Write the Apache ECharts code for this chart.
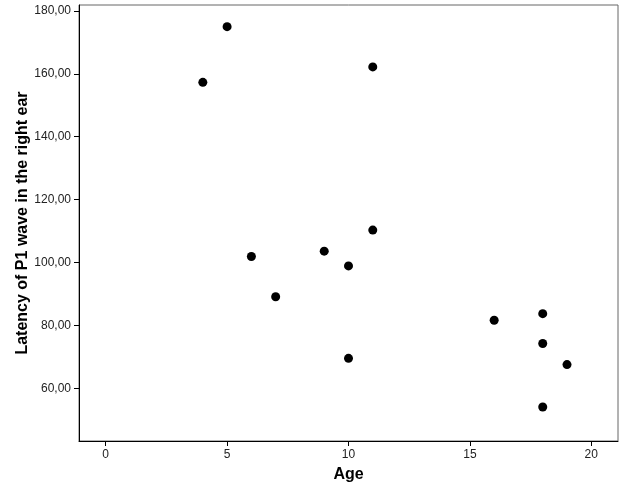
<!DOCTYPE html>
<html>
<head>
<meta charset="utf-8">
<script src="https://cdn.jsdelivr.net/npm/echarts@6/dist/echarts.min.js"></script>
<style>html,body{margin:0;padding:0;background:#fff}#c{width:626px;height:501px}</style>
</head>
<body>
<div id="c"></div>
<script>
var ages = [4, 5, 6, 7, 9, 10, 10, 11, 11, 16, 18, 18, 18, 19];
var latency = [157.3, 175.0, 101.9, 89.1, 103.6, 98.9, 69.5, 162.2, 110.3, 81.6, 83.7, 74.2, 54.0, 67.5];
var xTicks = [0, 5, 10, 15, 20];
var yTicks = [60, 80, 100, 120, 140, 160, 180];
var xName = 'Age';
var yName = 'Latency of P1 wave in the right ear';

var pts = ages.map(function (a, i) { return [a, latency[i]]; });
var chart = echarts.init(document.getElementById('c'));
var font = '"Liberation Sans", Arial, sans-serif';
chart.setOption({
  animation: false,
  backgroundColor: '#fff',
  grid: { left: 79, right: 8, top: 5, bottom: 60, show: true, borderColor: '#666', borderWidth: 1, backgroundColor: '#fff' },
  xAxis: {
    type: 'value', min: -1.1, max: 21.1,
    name: xName, nameLocation: 'middle', nameGap: 26, nameMoveOverlap: false,
    nameTextStyle: { fontFamily: font, fontSize: 16, fontWeight: 'bold', color: '#000' },
    axisLine: { show: true, onZero: false, lineStyle: { color: '#000', width: 1 } },
    axisTick: { show: true, length: 5, customValues: xTicks, lineStyle: { color: '#000' } },
    axisLabel: { customValues: xTicks, margin: 8, fontFamily: font, fontSize: 12, color: '#222' },
    splitLine: { show: false }
  },
  yAxis: {
    type: 'value', min: 43.2, max: 181.9,
    name: yName, nameLocation: 'middle', nameGap: 48, nameRotate: 90, nameMoveOverlap: false,
    nameTextStyle: { fontFamily: font, fontSize: 16, fontWeight: 'bold', color: '#000' },
    axisLine: { show: true, onZero: false, lineStyle: { color: '#000', width: 1 } },
    axisTick: { show: true, length: 5, customValues: yTicks, lineStyle: { color: '#000' } },
    axisLabel: { customValues: yTicks, margin: 8, fontFamily: font, fontSize: 12, color: '#222',
      formatter: function (v) { return v.toFixed(2).replace('.', ','); } },
    splitLine: { show: false }
  },
  series: [{
    type: 'scatter', data: pts, symbol: 'circle', symbolSize: 9,
    itemStyle: { color: '#000', opacity: 1 }
  }]
});
</script>
</body>
</html>
